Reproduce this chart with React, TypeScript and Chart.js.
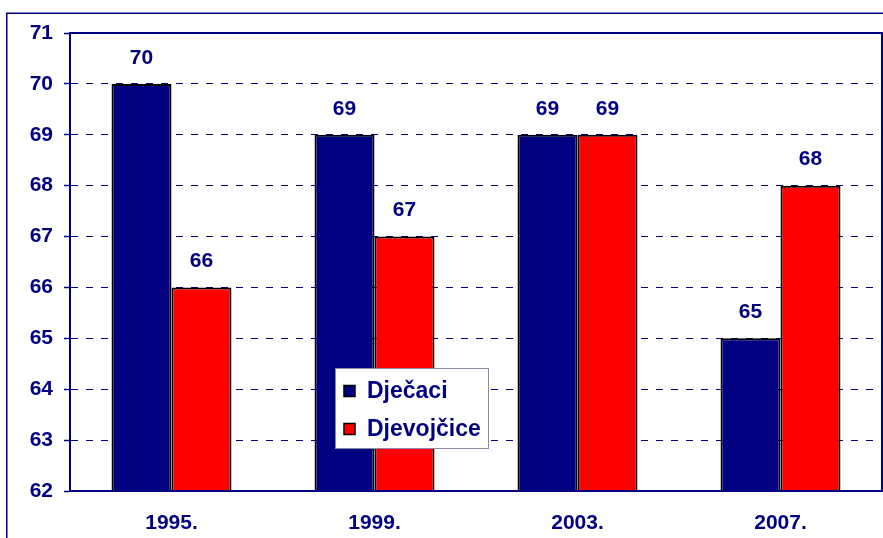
import React, { useEffect, useRef } from "react";
import { Chart, registerables } from "chart.js";

Chart.register(...registerables);

const categories = ["1995.", "1999.", "2003.", "2007."];
const boysLabel = "Dječaci";
const girlsLabel = "Djevojčice";
const boysValues = [70, 69, 69, 65];
const girlsValues = [66, 67, 69, 68];
const yMin = 62;
const yMax = 71;

const NAVY = "#000080";
const RED = "#FF0000";
const FONT = "'Liberation Sans', Arial, sans-serif";

const framePlugin = {
  id: "frame",
  beforeDraw(chart: any) {
    const ctx = chart.ctx;
    ctx.save();
    ctx.strokeStyle = NAVY;
    ctx.lineWidth = 1.5;
    ctx.strokeRect(6.75, 13.25, 1000, 1000);
    ctx.restore();
  },
  afterDatasetsDraw(chart: any) {
    const ctx = chart.ctx;
    const a = chart.chartArea;
    ctx.save();
    ctx.strokeStyle = NAVY;
    ctx.lineWidth = 2;
    ctx.beginPath();
    ctx.moveTo(a.left, a.top);
    ctx.lineTo(a.right, a.top);
    ctx.lineTo(a.right, a.bottom);
    ctx.lineTo(a.left, a.bottom);
    ctx.closePath();
    ctx.stroke();
    ctx.restore();

    // value labels
    ctx.save();
    ctx.fillStyle = NAVY;
    ctx.font = `bold 21px ${FONT}`;
    ctx.textAlign = "center";
    ctx.textBaseline = "middle";
    chart.data.datasets.forEach((ds: any, i: number) => {
      const meta = chart.getDatasetMeta(i);
      meta.data.forEach((el: any, j: number) => {
        ctx.fillText(String(ds.data[j]), el.x, el.y - 26);
      });
    });
    ctx.restore();
  },
  afterDraw(chart: any) {
    const ctx = chart.ctx;
    ctx.save();
    const x0 = 335, y0 = 368, w = 153, h = 80;
    ctx.fillStyle = "#FFFFFF";
    ctx.fillRect(x0, y0, w, h);
    ctx.strokeStyle = "#8a8aa8";
    ctx.lineWidth = 1;
    ctx.strokeRect(x0 + 0.5, y0 + 0.5, w, h);
    ctx.font = `bold 23px ${FONT}`;
    ctx.textBaseline = "middle";
    ctx.textAlign = "left";
    const rows = [391, 429];
    chart.data.datasets.forEach((ds: any, i: number) => {
      const cy = rows[i];
      ctx.fillStyle = ds.backgroundColor;
      ctx.fillRect(344, cy - 5.5, 11, 11);
      ctx.strokeStyle = "#000";
      ctx.lineWidth = 1.5;
      ctx.strokeRect(344, cy - 5.5, 11, 11);
      ctx.fillStyle = NAVY;
      ctx.fillText(ds.label, 367, cy + 1);
    });
    ctx.restore();
  },
};

export default function App() {
  const ref = useRef<HTMLCanvasElement>(null);
  useEffect(() => {
    if (!ref.current) return;
    const chart = new Chart(ref.current, {
      type: "bar",
      data: {
        labels: categories,
        datasets: [
          {
            label: boysLabel,
            data: boysValues,
            backgroundColor: NAVY,
            borderColor: "#000",
            borderWidth: 2,
            borderSkipped: false,
            categoryPercentage: 0.591,
            barPercentage: 1,
          },
          {
            label: girlsLabel,
            data: girlsValues,
            backgroundColor: RED,
            borderColor: "#000",
            borderWidth: 2,
            borderSkipped: false,
            categoryPercentage: 0.591,
            barPercentage: 1,
          },
        ],
      },
      options: {
        animation: false,
        responsive: true,
        maintainAspectRatio: false,
        layout: { padding: { top: 33, right: 1, left: 0, bottom: 0 } },
        plugins: {
          legend: { display: false },
          tooltip: { enabled: false },
          title: { display: false },
        },
        scales: {
          x: {
            afterFit(scale: any) {
              scale.height = 47;
            },
            grid: { display: false, drawTicks: false },
            border: { display: true, color: NAVY, width: 2 },
            ticks: {
              color: NAVY,
              padding: 20,
              font: { family: FONT, size: 21, weight: "bold" },
            },
          },
          y: {
            min: yMin,
            max: yMax,
            afterFit(scale: any) {
              scale.width = 70;
            },
            border: { display: true, color: NAVY, width: 2, dash: [7, 8] },
            grid: {
              color: NAVY,
              lineWidth: 1,
              tickLength: 6,
              tickColor: NAVY,
              tickBorderDash: [],
              tickWidth: 1.5,
            } as any,
            ticks: {
              stepSize: 1,
              color: NAVY,
              padding: 11,
              font: { family: FONT, size: 21, weight: "bold" },
            },
          },
        },
      } as any,
      plugins: [framePlugin],
    });
    return () => chart.destroy();
  }, []);
  return (
    <div style={{ position: "absolute", left: 0, top: 0, width: 883, height: 538, background: "#fff" }}>
      <canvas ref={ref} style={{ display: "block" }} />
    </div>
  );
}
